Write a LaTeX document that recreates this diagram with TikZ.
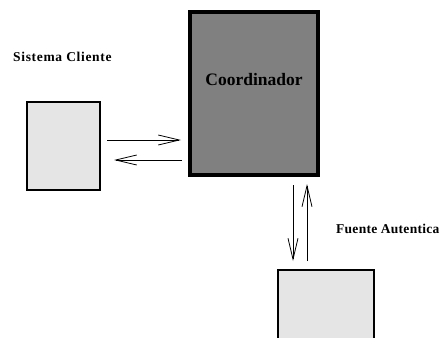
\documentclass[tikz,border=0pt]{standalone}
\usepackage{fontspec}
\setmainfont{Liberation Serif}
\usetikzlibrary{arrows.meta}
\tikzset{
  lightbox/.style={draw=black, line width=1.8pt, fill=black!10},
  darkbox/.style={draw=black, line width=3.2pt, fill=black!50},
  msg/.style={line width=0.8pt, -{Straight Barb[length=21pt, width=10pt, line width=0.8pt]}},
  caption/.style={font=\fontsize{13.5}{15}\selectfont\bfseries\addfontfeatures{LetterSpace=5}, inner sep=0pt, anchor=west},
}
\begin{document}
\begin{tikzpicture}[x=1pt, y=-1pt]
  \clip (0,0) rectangle (446,337);
  \fill[white] (0,0) rectangle (446,337);

  % boxes
  \draw[lightbox] (27,102) rectangle (100,190);
  \draw[darkbox] (190,12) rectangle (318,175);
  \draw[lightbox] (278,270) rectangle (374,350);

  % labels
  \node[caption] (sc) at (13,57) {Sistema Cliente};
  \node[caption, font=\fontsize{13.5}{15}\selectfont\bfseries\addfontfeatures{LetterSpace=2}] (fa) at (336,229) {Fuente Autentica};
  \node[font=\fontsize{17.5}{20}\selectfont\bfseries, inner sep=0pt] (co) at (254,80) {Coordinador};

  % message arrows between client and coordinator
  \coordinate (r1) at (107,140);
  \coordinate (r2) at (181,140);
  \coordinate (l1) at (182,160);
  \coordinate (l2) at (114,160);
  \draw[msg] (r1) -- (r2);
  \draw[msg] (l1) -- (l2);

  % message arrows between coordinator and authentic source
  \coordinate (d1) at (293,185);
  \coordinate (d2) at (293,261);
  \coordinate (u1) at (307,261);
  \coordinate (u2) at (307,184);
  \draw[msg] (d1) -- (d2);
  \draw[msg] (u1) -- (u2);
\end{tikzpicture}
\end{document}
